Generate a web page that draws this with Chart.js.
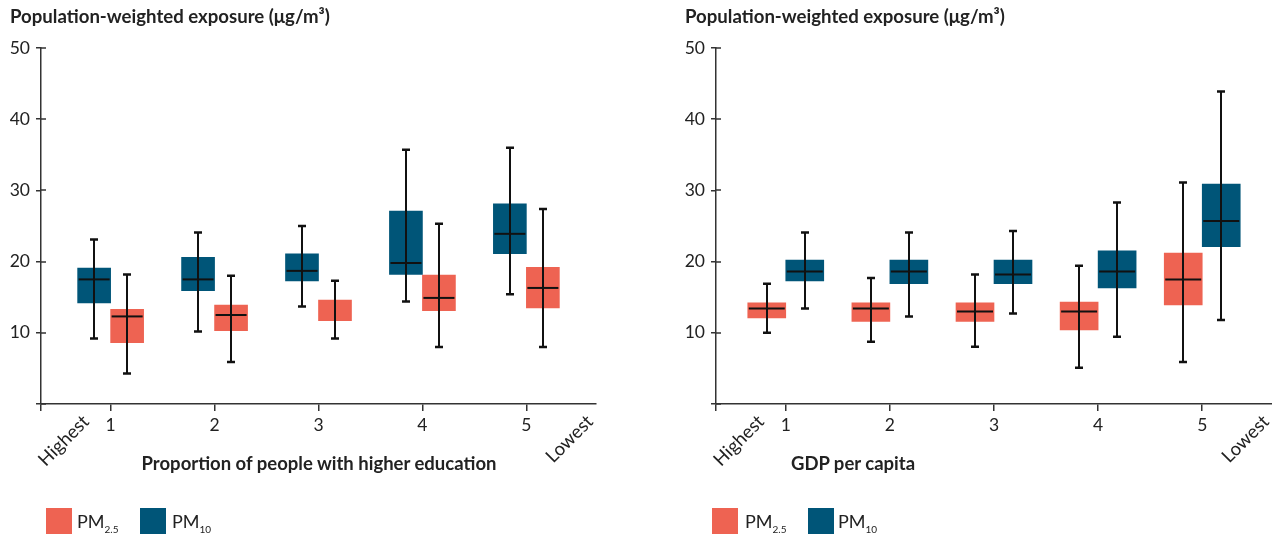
<!DOCTYPE html>
<html>
<head>
<meta charset="utf-8">
<script src="https://cdn.jsdelivr.net/npm/chart.js@4.4.1/dist/chart.umd.min.js"></script>
<style>
  body { margin: 0; background: #fff; font-family: Lato, sans-serif; color: #222; }
  #page { position: relative; width: 1272px; height: 538px; overflow: hidden; }
  .panel { position: absolute; top: 0; height: 538px; }
  .panel canvas { position: absolute; left: 0; top: 0; }
  .title { position: absolute; left: 10px; top: 5px; font-weight: bold; font-size: 18.6px; white-space: nowrap; }
  .xtitle { position: absolute; top: 452px; font-weight: bold; font-size: 18.5px; white-space: nowrap; transform: translateX(-50%); }
  .legend { position: absolute; top: 508px; font-size: 18px; white-space: nowrap; }
  .legend span.sw { position: absolute; top: 0; width: 26px; height: 26px; }
  .legend span.lb { position: absolute; top: 2px; }
  .legend sub { font-size: 10px; vertical-align: -5px; }
</style>
</head>
<body>
<div id="page">
  <div class="panel" id="leftPanel" style="left:0; width:636px;">
    <canvas id="eduChart" width="636" height="538"></canvas>
    <div class="title">Population-weighted exposure (μg/m³)</div>
    <div class="xtitle" style="left:319px;">Proportion of people with higher education</div>
    <div class="legend" style="left:46px;">
      <span class="sw" style="left:0; background:#EE6352;"></span><span class="lb" style="left:31px;">PM<sub>2.5</sub></span>
      <span class="sw" style="left:94px; background:#005578;"></span><span class="lb" style="left:126px;">PM<sub>10</sub></span>
    </div>
  </div>
  <div class="panel" id="rightPanel" style="left:675px; width:597px;">
    <canvas id="gdpChart" width="597" height="538"></canvas>
    <div class="title">Population-weighted exposure (μg/m³)</div>
    <div class="xtitle" style="left:178px;">GDP per capita</div>
    <div class="legend" style="left:37px;">
      <span class="sw" style="left:0; background:#EE6352;"></span><span class="lb" style="left:33px;">PM<sub>2.5</sub></span>
      <span class="sw" style="left:96px; background:#005578;"></span><span class="lb" style="left:126px;">PM<sub>10</sub></span>
    </div>
  </div>
</div>
<script>
// --- DATA ---
const groups = ['1', '2', '3', '4', '5'];
const groupPos = [1, 2, 3, 4, 5];
const edgeLabels = ['Highest', 'Lowest'];
const yTicks = [0, 10, 20, 30, 40, 50];

// education quintiles
const eduPm10Min = [9.2, 10.2, 13.7, 14.4, 15.4];
const eduPm10Q1  = [14.2, 15.9, 17.3, 18.2, 21.1];
const eduPm10Med = [17.5, 17.5, 18.7, 19.8, 23.9];
const eduPm10Q3  = [19.1, 20.6, 21.1, 27.1, 28.1];
const eduPm10Max = [23.1, 24.1, 25.0, 35.7, 36.0];

const eduPm25Min = [4.3, 5.9, 9.2, 8.0, 8.0];
const eduPm25Q1  = [8.6, 10.3, 11.7, 13.1, 13.5];
const eduPm25Med = [12.3, 12.5, null, 14.9, 16.3];
const eduPm25Q3  = [13.3, 13.9, 14.6, 18.1, 19.2];
const eduPm25Max = [18.2, 18.0, 17.3, 25.3, 27.4];

// GDP quintiles
const gdpPm25Min = [10.0, 8.75, 8.05, 5.1, 5.9];
const gdpPm25Q1  = [12.1, 11.6, 11.6, 10.4, 13.9];
const gdpPm25Med = [13.4, 13.4, 13.0, 13.0, 17.5];
const gdpPm25Q3  = [14.2, 14.2, 14.2, 14.3, 21.2];
const gdpPm25Max = [16.9, 17.7, 18.2, 19.4, 31.1];

const gdpPm10Min = [13.4, 12.3, 12.7, 9.45, 11.8];
const gdpPm10Q1  = [17.3, 16.9, 16.9, 16.3, 22.1];
const gdpPm10Med = [18.6, 18.6, 18.2, 18.6, 25.7];
const gdpPm10Q3  = [20.2, 20.2, 20.2, 21.5, 30.9];
const gdpPm10Max = [24.1, 24.1, 24.3, 28.3, 43.9];

const RED = '#EE6352';
const BLUE = '#005578';
const AXIS = '#333';
const X_MIN = 0.33, X_MAX = 5.67;

function boxDataset(label, color, q1, q3, med, lo, hi, thickness) {
    return {
        label: label,
        data: groupPos.map((x, i) => ({ x: x, y: [q1[i], q3[i]] })),
        backgroundColor: color,
        borderWidth: 0,
        barThickness: thickness,
        whiskerMin: lo,
        whiskerMax: hi,
        median: med
    };
}

// whiskers + medians on top of the boxes
const whiskerPlugin = {
    id: 'whiskers',
    afterDatasetsDraw(chart) {
        const ctx = chart.ctx;
        const y = chart.scales.y;
        ctx.save();
        ctx.strokeStyle = '#111';
        chart.data.datasets.forEach((ds, di) => {
            const meta = chart.getDatasetMeta(di);
            meta.data.forEach((bar, i) => {
                const x = Math.round(bar.x);
                const top = y.getPixelForValue(ds.whiskerMax[i]);
                const bot = y.getPixelForValue(ds.whiskerMin[i]);
                ctx.lineWidth = 2;
                ctx.beginPath();
                ctx.moveTo(x, top);
                ctx.lineTo(x, bot);
                ctx.stroke();
                ctx.lineWidth = 2.5;
                ctx.beginPath();
                ctx.moveTo(x - 4, top); ctx.lineTo(x + 4, top);
                ctx.moveTo(x - 4, bot); ctx.lineTo(x + 4, bot);
                ctx.stroke();
                if (ds.median[i] != null) {
                    const m = y.getPixelForValue(ds.median[i]);
                    ctx.lineWidth = 2;
                    ctx.beginPath();
                    ctx.moveTo(bar.x - bar.width / 2 + 1, m);
                    ctx.lineTo(bar.x + bar.width / 2 - 1, m);
                    ctx.stroke();
                }
            });
        });
        ctx.restore();
    }
};

// inner half of the y ticks, and the rotated end labels
const axisExtras = {
    id: 'axisExtras',
    afterDraw(chart) {
        const ctx = chart.ctx;
        const xs = chart.scales.x, ys = chart.scales.y;
        ctx.save();
        ctx.strokeStyle = AXIS;
        ctx.lineWidth = 1.5;
        ctx.beginPath();
        yTicks.forEach(v => {
            const py = Math.round(ys.getPixelForValue(v));
            ctx.moveTo(xs.left, py);
            ctx.lineTo(xs.left + 5, py);
        });
        ctx.stroke();

        ctx.fillStyle = '#222';
        ctx.font = '18.5px Lato';
        ctx.textAlign = 'right';
        ctx.textBaseline = 'top';
        const spots = [xs.min + 0.37, xs.max - 0.12];
        edgeLabels.forEach((txt, i) => {
            ctx.save();
            ctx.translate(xs.getPixelForValue(spots[i]), ys.bottom + 8);
            ctx.rotate(-Math.PI / 4);
            ctx.fillText(txt, 0, 0);
            ctx.restore();
        });
        ctx.restore();
    }
};

function makeChart(id, datasets, padRight) {
    const ctx = document.getElementById(id).getContext('2d');
    return new Chart(ctx, {
        type: 'bar',
        data: { datasets: datasets },
        options: {
            responsive: false,
            animation: false,
            devicePixelRatio: 1,
            layout: { padding: { top: 48, right: padRight, left: 0, bottom: 0 } },
            plugins: { legend: { display: false }, tooltip: { enabled: false } },
            scales: {
                x: {
                    type: 'linear',
                    min: X_MIN,
                    max: X_MAX,
                    offset: false,
                    afterBuildTicks: s => { s.ticks = [X_MIN].concat(groupPos).map(v => ({ value: v })); },
                    afterFit: s => { s.height = 134; },
                    ticks: {
                        autoSkip: false,
                        maxRotation: 0,
                        padding: 4,
                        color: '#222',
                        font: { family: 'Lato', size: 17.5 },
                        callback: v => { const i = groupPos.indexOf(v); return i >= 0 ? groups[i] : ''; }
                    },
                    grid: { offset: false, drawOnChartArea: false, tickLength: 7, color: AXIS, lineWidth: 1.5 },
                    border: { color: AXIS, width: 1.5 }
                },
                y: {
                    min: 0,
                    max: 50,
                    afterBuildTicks: s => { s.ticks = yTicks.map(v => ({ value: v })); },
                    afterFit: s => { s.width = 41; },
                    ticks: {
                        padding: 6,
                        color: '#222',
                        font: { family: 'Lato', size: 17.5 },
                        callback: v => v === 0 ? '' : String(v)
                    },
                    grid: { drawOnChartArea: false, tickLength: 5, color: AXIS, lineWidth: 1.5 },
                    border: { color: AXIS, width: 1.5 }
                }
            }
        },
        plugins: [whiskerPlugin, axisExtras]
    });
}

makeChart('eduChart', [
    boxDataset('PM10', BLUE, eduPm10Q1, eduPm10Q3, eduPm10Med, eduPm10Min, eduPm10Max, 33),
    boxDataset('PM2.5', RED, eduPm25Q1, eduPm25Q3, eduPm25Med, eduPm25Min, eduPm25Max, 33)
], 40);

makeChart('gdpChart', [
    boxDataset('PM2.5', RED, gdpPm25Q1, gdpPm25Q3, gdpPm25Med, gdpPm25Min, gdpPm25Max, 38),
    boxDataset('PM10', BLUE, gdpPm10Q1, gdpPm10Q3, gdpPm10Med, gdpPm10Min, gdpPm10Max, 38)
], 0);
</script>
</body>
</html>
